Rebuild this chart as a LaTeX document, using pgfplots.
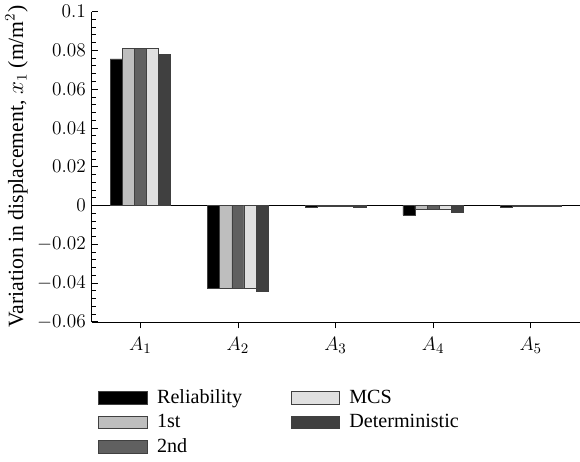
\documentclass[border=0pt]{standalone}
\usepackage{fontspec}
\setmainfont{Liberation Serif}
\usepackage{pgfplots}
\pgfplotsset{compat=1.18}
\definecolor{c1}{RGB}{0,0,0}
\definecolor{c2}{RGB}{190,190,190}
\definecolor{c3}{RGB}{96,96,96}
\definecolor{c4}{RGB}{224,224,224}
\definecolor{c5}{RGB}{64,64,64}
\begin{document}
\begin{tikzpicture}
\begin{axis}[
    width=302bp, height=192bp, scale only axis,
    ybar=0pt, bar width=7.5bp,
    xmin=-0.5, xmax=4.5,
    ymin=-0.06, ymax=0.1,
    xtick={0,1,2,3,4},
    xticklabels={$A_1$,$A_2$,$A_3$,$A_4$,$A_5$},
    ytick={-0.06,-0.04,-0.02,0,0.02,0.04,0.06,0.08,0.1},
    yticklabels={$-0.06$,$-0.04$,$-0.02$,$0$,$0.02$,$0.04$,$0.06$,$0.08$,$0.1$},
    minor y tick num=4,
    axis lines*=left,
    xtick align=outside, ytick align=inside,
    major tick length=4bp, minor tick length=2.5bp,
    tick style={black, line width=0.5pt},
    ticklabel style={font=\fontsize{12.5}{14}\selectfont},
    xticklabel style={yshift=-2bp},
    ylabel={\fontsize{13.5}{15}\selectfont Variation in displacement, $x_1$ (m/m$^2$)},
    ylabel style={yshift=-1bp},
    extra y ticks={0}, extra y tick labels={},
    extra y tick style={grid=major, major grid style={black, line width=0.6pt}},
    legend columns=3, transpose legend,
    legend cell align=left,
    legend style={draw=none, at={(0,0)}, anchor=north west, yshift=-38bp, xshift=1bp,
        font=\fontsize{12.5}{14}\selectfont,
        row sep=1bp,
        /tikz/every odd column/.append style={column sep=4bp},
        /tikz/every even column/.append style={column sep=28bp}},
    legend image code/.code={\draw[#1] (0bp,-4bp) rectangle (30bp,4bp);},
    every axis plot/.append style={draw=black!75, line width=0.4pt},
]
\addplot[fill=c1] coordinates {(0,0.0756) (1,-0.0427) (2,-0.0008) (3,-0.0050) (4,-0.0008)};
\addplot[fill=c2] coordinates {(0,0.0808) (1,-0.0425) (2,-0.0003) (3,-0.0020) (4,-0.0003)};
\addplot[fill=c3] coordinates {(0,0.0810) (1,-0.0427) (2,-0.0003) (3,-0.0020) (4,-0.0003)};
\addplot[fill=c4] coordinates {(0,0.0812) (1,-0.0427) (2,-0.0003) (3,-0.0020) (4,-0.0003)};
\addplot[fill=c5] coordinates {(0,0.0779) (1,-0.0443) (2,-0.0007) (3,-0.0035) (4,-0.0006)};
\legend{Reliability,1st,2nd,MCS,Deterministic}
\end{axis}
\end{tikzpicture}
\end{document}
